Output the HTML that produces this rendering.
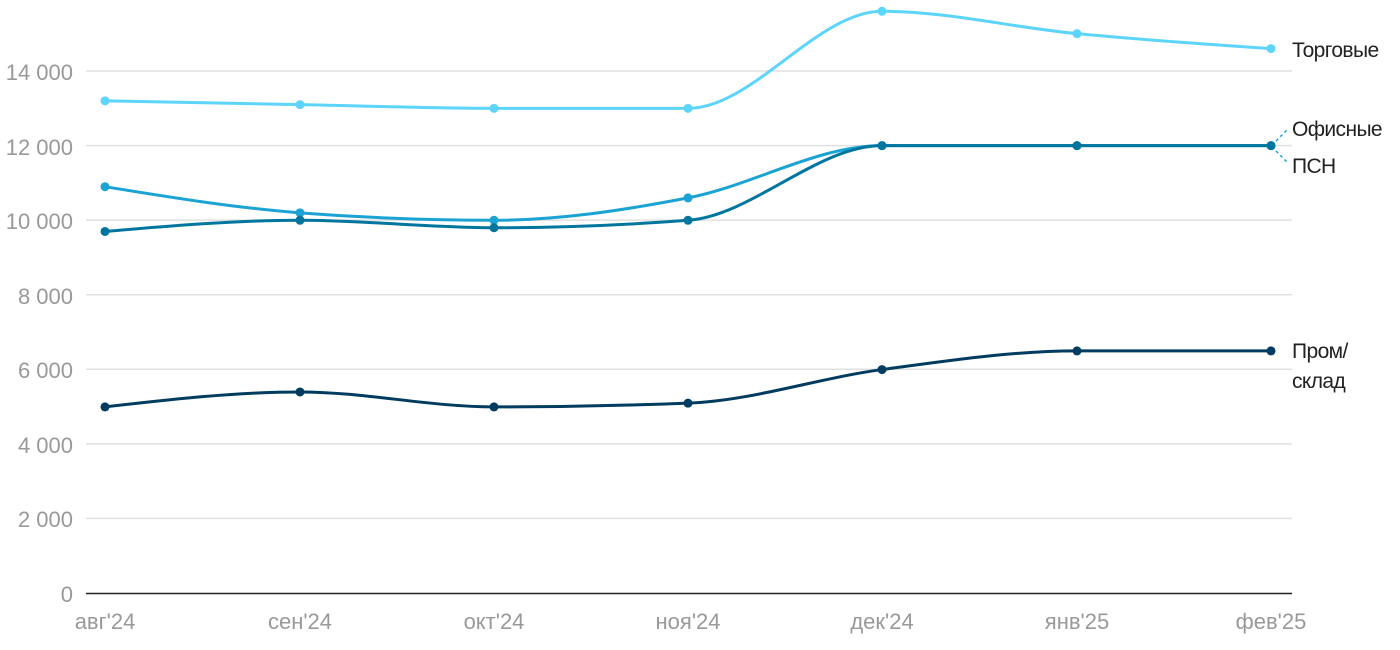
<!DOCTYPE html>
<html><head><meta charset="utf-8"><style>
html,body{margin:0;padding:0;background:#fff;}
svg{display:block;font-family:"Liberation Sans",sans-serif;}
</style></head><body>
<svg id="c" width="1400" height="650" xmlns="http://www.w3.org/2000/svg">
<g stroke="#e0e0e0" stroke-width="1.5">
<line x1="86" x2="1292" y1="518.4" y2="518.4"/>
<line x1="86" x2="1292" y1="443.9" y2="443.9"/>
<line x1="86" x2="1292" y1="369.3" y2="369.3"/>
<line x1="86" x2="1292" y1="294.7" y2="294.7"/>
<line x1="86" x2="1292" y1="220.1" y2="220.1"/>
<line x1="86" x2="1292" y1="145.6" y2="145.6"/>
<line x1="86" x2="1292" y1="71" y2="71"/>
</g>
<line x1="86" x2="1292" y1="593.5" y2="593.5" stroke="#222" stroke-width="1.5"/>
<g fill="#999" font-size="22" text-anchor="end">
<text x="73" y="602">0</text>
<text x="73" y="527">2 000</text>
<text x="73" y="453">4 000</text>
<text x="73" y="378">6 000</text>
<text x="73" y="304">8 000</text>
<text x="73" y="229">10 000</text>
<text x="73" y="155">12 000</text>
<text x="73" y="80">14 000</text>
</g>
<g fill="#999" font-size="22" text-anchor="middle">
<text x="105" y="629">авг'24</text>
<text x="300" y="629">сен'24</text>
<text x="494" y="629">окт'24</text>
<text x="688" y="629">ноя'24</text>
<text x="882" y="629">дек'24</text>
<text x="1077" y="629">янв'25</text>
<text x="1271" y="629">фев'25</text>
</g>
<g id="series"></g>
<path d="M1276 141 L1287 130 M1276 151 L1287 162" stroke="#1ba3d4" stroke-width="1.5" stroke-dasharray="3,3" fill="none"/>
<g fill="#222" font-size="21" letter-spacing="-0.6">
<text x="1292" y="57">Торговые</text>
<text x="1292" y="136">Офисные</text>
<text x="1292" y="173">ПСН</text>
<text x="1292" y="358">Пром/</text>
<text x="1292" y="388">склад</text>
</g>
</svg>
<script>
var xs=[105,300,494,688,882,1077,1271];
function y(v){return 593.5-v*522.5/14000;}
var S=[
["#5dd5fa",[13200,13100,13000,13000,15600,15000,14600]],
["#1ba3d4",[10900,10200,10000,10600,12000,12000,12000]],
["#00769f",[9700,10000,9800,10000,12000,12000,12000]],
["#003c5f",[5000,5400,5000,5100,6000,6500,6500]]];
function mono(px,py){var n=px.length,d=[],m=[],t=[];
for(var i=0;i<n-1;i++){d[i]=px[i+1]-px[i];m[i]=(py[i+1]-py[i])/d[i];}
t[0]=m[0];t[n-1]=m[n-2];
for(i=1;i<n-1;i++){if(m[i-1]*m[i]<=0)t[i]=0;else{var h0=d[i-1],h1=d[i];
var s=(m[i-1]*h1+m[i]*h0)/(h0+h1);t[i]=(Math.sign(m[i-1])+Math.sign(m[i]))*Math.min(Math.abs(m[i-1]),Math.abs(m[i]),0.5*Math.abs(s));}}
t[0]=(3*m[0]-t[1])/2; if(m[0]*t[0]<=0)t[0]=0;
t[n-1]=(3*m[n-2]-t[n-2])/2; if(m[n-2]*t[n-1]<=0)t[n-1]=0;
var p="M"+px[0]+","+py[0];
for(i=0;i<n-1;i++){var h=d[i]/3;p+="C"+(px[i]+h)+","+(py[i]+h*t[i])+" "+(px[i+1]-h)+","+(py[i+1]-h*t[i+1])+" "+px[i+1]+","+py[i+1];}
return p;}
var g=document.getElementById("series"),ns="http://www.w3.org/2000/svg";
S.forEach(function(s){var py=s[1].map(y);
var p=document.createElementNS(ns,"path");p.setAttribute("d",mono(xs,py));
p.setAttribute("fill","none");p.setAttribute("stroke",s[0]);p.setAttribute("stroke-width","3");g.appendChild(p);
py.forEach(function(v,i){var c=document.createElementNS(ns,"circle");c.setAttribute("cx",xs[i]);c.setAttribute("cy",v);c.setAttribute("r","4.5");c.setAttribute("fill",s[0]);g.appendChild(c);});});
</script>
</body></html>
